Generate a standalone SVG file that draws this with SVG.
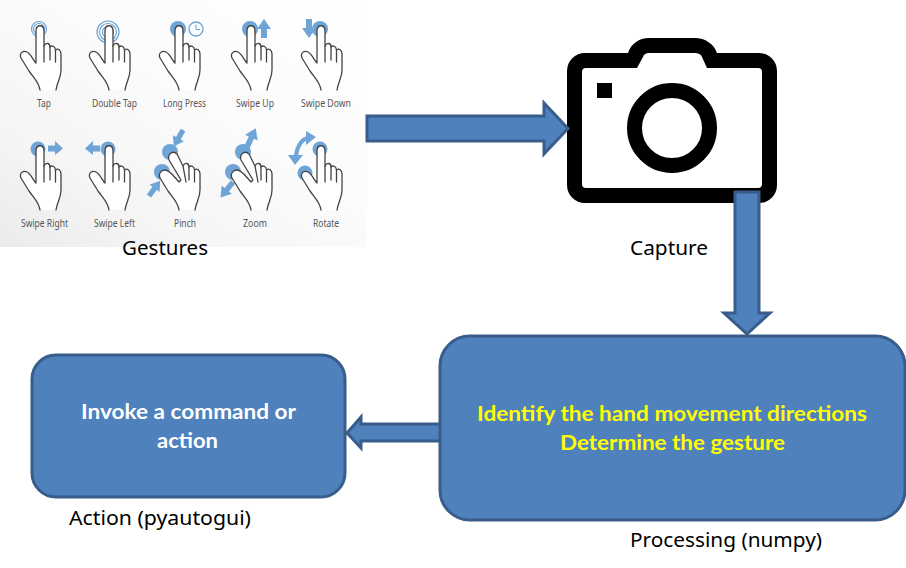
<svg xmlns="http://www.w3.org/2000/svg" width="906" height="568" viewBox="0 0 906 568">
<style>
.cap{font:10.5px "Noto Sans",sans-serif;fill:#555;text-anchor:middle}
.lbl{font:20.8px "Noto Sans",sans-serif;fill:#000}
.blk{fill:#4f81bd;stroke:#385d8a;stroke-width:3}
.bt{font:bold 21px Lato,sans-serif;text-anchor:middle}
.hand{fill:#fff;stroke:#444;stroke-width:1.3;stroke-linejoin:round;stroke-linecap:round}
.sep{fill:none;stroke:#444;stroke-width:1.3;stroke-linecap:round}
.ic{fill:#6fa5d6}
.ring{fill:none;stroke:#6fa5d6;stroke-width:1.2}
.ln{fill:none;stroke:#6fa5d6;stroke-width:4}
</style>
<defs>
<linearGradient id="bg" x1="1" y1="0" x2="0" y2="1">
<stop offset="0" stop-color="#ffffff"/><stop offset="0.45" stop-color="#fbfbfb"/><stop offset="0.75" stop-color="#f5f5f5"/><stop offset="1" stop-color="#ebebeb"/>
</linearGradient>
<path id="ar" class="ic" d="M0 -2.500H9V-6L18 0L9 6V2.500H0Z"/>
<g id="h">
<path class="hand" d="M40 90C39 82 34 78 29 71L21 58C19 53 23 50 27 52C31 54 33 60 36 63L36 31C36 24 44 24 44 31L44 46C46 42 50 43 50 47C52 45 55 46 55.500 50C58 48 61 50 61 54L61 70C61 78 57 82 56 90"/>
<path class="sep" d="M44 46V62M50 47V60M55.500 50V62"/>
</g>
<g id="h2">
<path class="hand" d="M40 90C39 82 34 78 29 71L21 58C19 54 22 50 26 50C31 50 36 58 40 62L42 60L30 40C28 34 34 30 38 34L44 46C46 42 50 43 50 47C52 45 55 46 55.500 50C58 48 61 50 61 54L61 70C61 78 57 82 56 90"/>
<path class="sep" d="M44 46L47 62M50 47V60M55.500 50V62"/>
</g>
</defs>

<g id="gestures">
<rect x="0" y="0" width="367" height="247" fill="url(#bg)"/>
<g id="g-tap"><circle class="ring" cx="39" cy="29" r="5.500"/><circle class="ring" cx="39" cy="29" r="7.500"/><use href="#h"/><text class="cap" x="44" y="107" textLength="14" lengthAdjust="spacingAndGlyphs">Tap</text></g>
<g id="g-double"><circle class="ring" cx="108" cy="32" r="5.500"/><circle class="ring" cx="108" cy="32" r="8.500"/><circle class="ring" cx="108" cy="32" r="11"/><use href="#h" x="69"/><text class="cap" x="114.500" y="107" textLength="45" lengthAdjust="spacingAndGlyphs">Double Tap</text></g>
<g id="g-long"><circle class="ic" cx="178" cy="29" r="8"/><circle cx="196" cy="29" r="7" fill="none" stroke="#6fa5d6" stroke-width="1.300"/><path d="M196 24.500V29.500H200" fill="none" stroke="#6fa5d6" stroke-width="1"/><use href="#h" x="139"/><text class="cap" x="184.500" y="107" textLength="43" lengthAdjust="spacingAndGlyphs">Long Press</text></g>
<g id="g-up"><circle class="ic" cx="250" cy="29" r="8"/><path class="ic" d="M264 19L271 29H267V38H261V29H257Z"/><use href="#h" x="211"/><text class="cap" x="255" y="107" textLength="38" lengthAdjust="spacingAndGlyphs">Swipe Up</text></g>
<g id="g-down"><circle class="ic" cx="320" cy="29" r="8"/><path class="ic" d="M306 19H312V28H316L309 38L302 28H306Z"/><use href="#h" x="281"/><text class="cap" x="326" y="107" textLength="50" lengthAdjust="spacingAndGlyphs">Swipe Down</text></g>

<g id="g-right"><circle class="ic" cx="38" cy="149" r="7.500"/><path class="ic" d="M48 145.500H55V141L63 148.500L55 155V151.500H48Z"/><use href="#h" y="120"/><text class="cap" x="44.500" y="227" textLength="47" lengthAdjust="spacingAndGlyphs">Swipe Right</text></g>
<g id="g-left"><circle class="ic" cx="108" cy="149" r="7.500"/><path class="ic" d="M100 145.500H93V141L85 148.500L93 155V151.500H100Z"/><use href="#h" x="69" y="120"/><text class="cap" x="114.500" y="227" textLength="41" lengthAdjust="spacingAndGlyphs">Swipe Left</text></g>
<g id="g-pinch"><circle class="ic" cx="170" cy="152" r="8"/><circle class="ic" cx="162" cy="172" r="8"/><use href="#ar" transform="translate(183 130) rotate(119) scale(1.05)"/><use href="#ar" transform="translate(149 196) rotate(-54) scale(1.05)"/><use href="#h2" x="139" y="120"/><text class="cap" x="185" y="227" textLength="22" lengthAdjust="spacingAndGlyphs">Pinch</text></g>
<g id="g-zoom"><circle class="ic" cx="243" cy="152" r="8"/><circle class="ic" cx="233" cy="172" r="8"/><use href="#ar" transform="translate(247 147) rotate(-65) scale(1.15)"/><use href="#ar" transform="translate(233 182) rotate(129) scale(1.1)"/><use href="#h2" x="211" y="120"/><text class="cap" x="255" y="227" textLength="24" lengthAdjust="spacingAndGlyphs">Zoom</text></g>
<g id="g-rotate"><circle class="ic" cx="320" cy="149" r="7.500"/><circle class="ic" cx="305" cy="173" r="7.500"/><path class="ln" d="M308 138C302 139 297 146 296 156"/><path class="ic" d="M306 131L316 137L306 145Z"/><path class="ic" d="M288 155H303L295 165Z"/><use href="#h" x="281" y="120"/><text class="cap" x="326" y="227" textLength="26" lengthAdjust="spacingAndGlyphs">Rotate</text></g>
<text class="lbl" x="122" y="255" textLength="86" lengthAdjust="spacingAndGlyphs">Gestures</text>
</g>

<g id="capture">
<path fill="#000" fill-rule="evenodd" d="M585 53H628C631 44 639 38 649 38H695C705 38 714 44 717 53H759A18 18 0 0 1 777 71V185A18 18 0 0 1 759 203H585A18 18 0 0 1 567 185V71A18 18 0 0 1 585 53ZM637 68H586A4 4 0 0 0 582 72V184A4 4 0 0 0 586 188H758A4 4 0 0 0 762 184V72A4 4 0 0 0 758 68H707L702 57C701 54 698 53 695 53H649C646 53 644 54 643 57Z"/>
<rect x="597" y="83" width="15" height="15" fill="#000"/>
<circle cx="672" cy="128" r="37.500" fill="none" stroke="#000" stroke-width="15"/>
<text class="lbl" x="630" y="255" textLength="78" lengthAdjust="spacingAndGlyphs">Capture</text>
</g>

<g id="connectors">
<path class="blk" d="M367 116H544V103L568 128.500L544 154V141H367Z"/>
<path class="blk" d="M735 192H759V313H770L747 334L724 313H735Z"/>
<path class="blk" d="M441 424H361V417L347 433L361 448V441H441Z"/>
</g>

<g id="processing">
<rect class="blk" x="440" y="336" width="465" height="184" rx="30"/>
<text class="bt" x="672" y="421" fill="#ffff00" textLength="390" lengthAdjust="spacingAndGlyphs">Identify the hand movement directions</text>
<text class="bt" x="672.500" y="450" fill="#ffff00" textLength="225" lengthAdjust="spacingAndGlyphs">Determine the gesture</text>
<text class="lbl" x="630" y="547" textLength="192" lengthAdjust="spacingAndGlyphs">Processing (numpy)</text>
</g>

<g id="action">
<rect class="blk" x="32" y="355" width="313" height="142" rx="24"/>
<text class="bt" x="188.500" y="419" fill="#fff" textLength="215" lengthAdjust="spacingAndGlyphs">Invoke a command or</text>
<text class="bt" x="187.500" y="448" fill="#fff" textLength="61" lengthAdjust="spacingAndGlyphs">action</text>
<text class="lbl" x="69" y="525" textLength="182" lengthAdjust="spacingAndGlyphs">Action (pyautogui)</text>
</g>
</svg>
